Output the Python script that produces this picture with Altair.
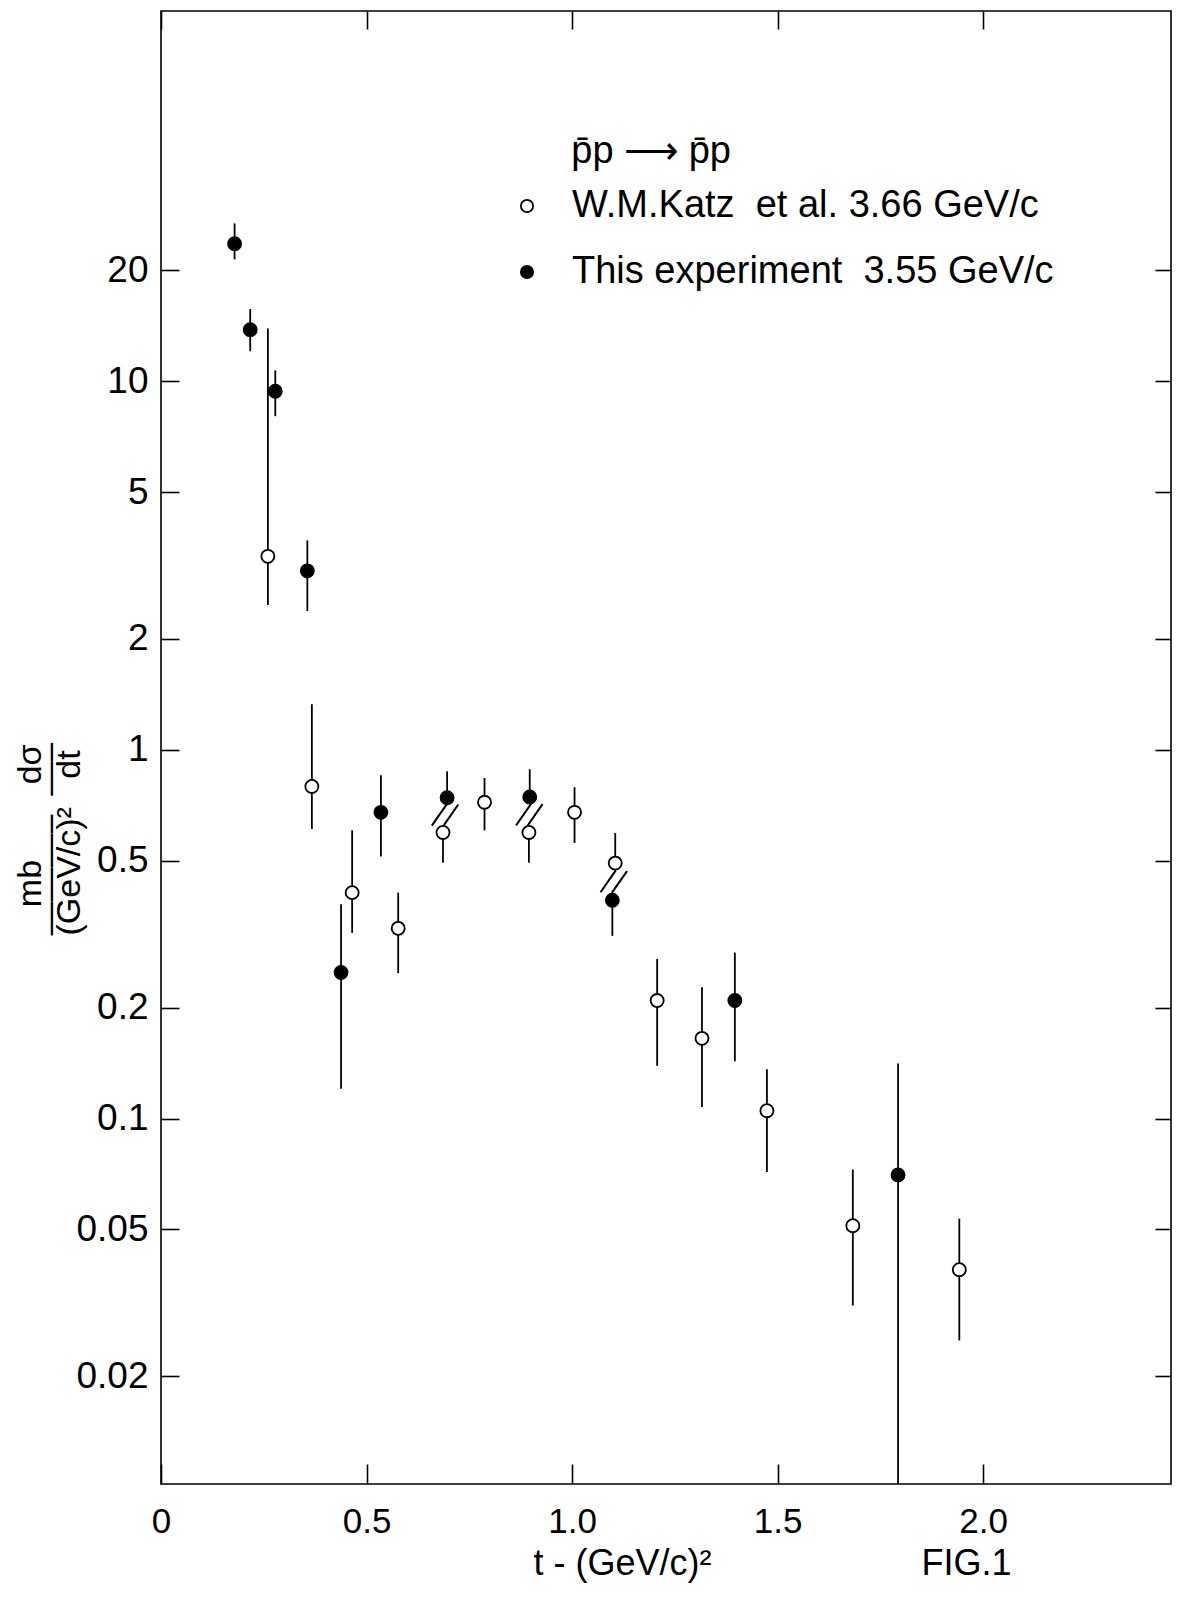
import altair as alt
import pandas as pd
import math

FONT = "Liberation Sans"

# ---- data ----
KATZ_LABEL = "W.M.Katz\u00a0 et al. 3.66 GeV/c"
THIS_LABEL = "This experiment\u00a0 3.55 GeV/c"
SERIES = [KATZ_LABEL, THIS_LABEL]
LEGEND_TITLE = "\u200b" + "\u00a0" * 6 + "p\u0304p \u27f6 p\u0304p"

KATZ_T = [0.260, 0.367, 0.465, 0.577, 0.686, 0.787, 0.895, 1.006, 1.105, 1.207, 1.316, 1.474, 1.683, 1.942]
KATZ_V = [3.35, 0.796, 0.410, 0.328, 0.597, 0.721, 0.597, 0.677, 0.493, 0.209, 0.165, 0.105, 0.0512, 0.0389]
KATZ_HI = [13.9, 1.33, 0.605, 0.410, 0.597, 0.839, 0.597, 0.792, 0.595, 0.271, 0.227, 0.136, 0.0727, 0.0535]
KATZ_LO = [2.47, 0.610, 0.319, 0.248, 0.494, 0.605, 0.494, 0.559, 0.493, 0.139, 0.1075, 0.0716, 0.0311, 0.025]

THIS_T = [0.179, 0.217, 0.278, 0.356, 0.438, 0.535, 0.696, 0.897, 1.098, 1.396, 1.793]
THIS_V = [23.6, 13.8, 9.40, 3.06, 0.249, 0.677, 0.742, 0.745, 0.391, 0.209, 0.0703]
THIS_HI = [26.8, 15.7, 10.7, 3.70, 0.381, 0.853, 0.875, 0.886, 0.391, 0.282, 0.141]
THIS_LO = [21.4, 12.06, 8.04, 2.38, 0.1205, 0.514, 0.742, 0.745, 0.313, 0.143, 0.005]

# overlapping pairs marked with "//" : (Katz index, This-experiment index)
SLASH_PAIRS = [(4, 6), (6, 7), (8, 8)]

X_TICKS = [0, 0.5, 1.0, 1.5, 2.0]
X_LABELS = ["0", "0.5", "1.0", "1.5", "2.0"]
Y_TICKS = [0.02, 0.05, 0.1, 0.2, 0.5, 1, 2, 5, 10, 20]
Y_LABELS = ["0.02", "0.05", "0.1", "0.2", "0.5", "1", "2", "5", "10", "20"]

X_TITLE = "t - (GeV/c)\u00b2" + "\u00a0" * 21 + "FIG.1"
Y_TITLE = [
    "\u200b" + "\u00a0" * 3 + "mb" + "\u00a0" * 8 + "d\u03c3",
    "\u2014\u2014\u2014\u2013" + "\u00a0" * 2 + "\u2014\u2013",
    "(GeV/c)\u00b2" + "\u00a0" * 3 + "dt",
]

# ---- tables ----
rows = []
for t, v, lo, hi in zip(KATZ_T, KATZ_V, KATZ_LO, KATZ_HI):
    rows.append(dict(t=t, v=v, lo=lo, hi=hi, series=KATZ_LABEL))
for t, v, lo, hi in zip(THIS_T, THIS_V, THIS_LO, THIS_HI):
    rows.append(dict(t=t, v=v, lo=lo, hi=hi, series=THIS_LABEL))
df = pd.DataFrame(rows)

slash_rows = []
for ki, ti in SLASH_PAIRS:
    slash_rows.append(dict(t=(KATZ_T[ki] + THIS_T[ti]) / 2,
                           v=math.sqrt(KATZ_V[ki] * THIS_V[ti])))
slash_df = pd.DataFrame(slash_rows)


def label_expr(ticks, labels):
    expr = "''"
    for tv, lab in reversed(list(zip(ticks, labels))):
        expr = f"abs(datum.value - {tv}) < {abs(tv) * 1e-6 + 1e-9} ? '{lab}' : ({expr})"
    return expr


xscale = alt.Scale(domain=[0, 2.457], nice=False, zero=False)
yscale = alt.Scale(type="log", domain=[0.0102, 101], nice=False)

common = dict(domain=False, grid=False, tickColor="black", tickWidth=1.6,
              labelFlush=False, labelOverlap=False)

x_bottom = alt.Axis(orient="bottom", values=X_TICKS, labelExpr=label_expr(X_TICKS, X_LABELS),
                    tickSize=20, offset=-20, labelPadding=20, labelFontSize=35,
                    title=X_TITLE, titleFontSize=36, titleAlign="left",
                    titleBaseline="alphabetic", titleX=372, titleY=110, **common)
y_left = alt.Axis(orient="left", values=Y_TICKS, labelExpr=label_expr(Y_TICKS, Y_LABELS),
                  tickSize=18, offset=-18, labelPadding=13, labelFontSize=37,
                  title=Y_TITLE, titleFontSize=34, titleLineHeight=19.5, titleAngle=270,
                  titleAlign="left", titleBaseline="alphabetic", titleX=-139, titleY=924,
                  **common)
x_top = alt.Axis(orient="top", values=X_TICKS, labels=False, tickSize=18, offset=-18,
                 title=None, **common)
y_right = alt.Axis(orient="right", values=Y_TICKS, labels=False, tickSize=16, offset=-16,
                   title=None, **common)

errors = alt.Chart(df).mark_rule(stroke="black", strokeWidth=1.8, clip=True).encode(
    x=alt.X("t:Q", scale=xscale, axis=x_bottom),
    y=alt.Y("lo:Q", scale=yscale, axis=y_left),
    y2="hi:Q",
)

SLASH_PATH = "M -1 0.8 L 0.15 -0.85 M -0.15 0.85 L 1 -0.8"
slashes = alt.Chart(slash_df).mark_point(
    shape=SLASH_PATH, filled=False, size=700, stroke="black", strokeWidth=2, opacity=1
).encode(
    x=alt.X("t:Q", scale=xscale, axis=None),
    y=alt.Y("v:Q", scale=yscale, axis=None),
)

points = alt.Chart(df).mark_point(
    shape="circle", filled=True, size=170, stroke="black", strokeWidth=1.8, opacity=1
).encode(
    x=alt.X("t:Q", scale=xscale, axis=x_top),
    y=alt.Y("v:Q", scale=yscale, axis=y_right),
    fill=alt.Fill("series:N", scale=alt.Scale(domain=SERIES, range=["white", "black"]),
                  legend=alt.Legend(
                      title=LEGEND_TITLE, orient="none", legendX=347, legendY=122,
                      titleFontSize=38, titleFontWeight="normal", titleLimit=0,
                      titlePadding=16, labelFontSize=38, labelLimit=0, labelOffset=26,
                      symbolType="circle", symbolSize=150, symbolStrokeColor="black",
                      symbolStrokeWidth=1.8, rowPadding=28, padding=0)),
)

chart = alt.layer(errors, slashes, points).resolve_axis(
    x="independent", y="independent"
).properties(
    width=1010, height=1473,
    padding={"left": 153, "top": 3, "right": 1, "bottom": 100},
    autosize=alt.AutoSizeParams(type="none"),
    background="white",
).configure(font=FONT).configure_view(
    stroke="black", strokeWidth=1.6
).configure_axis(
    labelFont=FONT, titleFont=FONT, labelColor="black", titleColor="black",
    titleFontWeight="normal",
).configure_legend(
    labelFont=FONT, titleFont=FONT, labelColor="black", titleColor="black",
)

chart.save("out.html", embed_options={"renderer": "svg", "actions": False})
